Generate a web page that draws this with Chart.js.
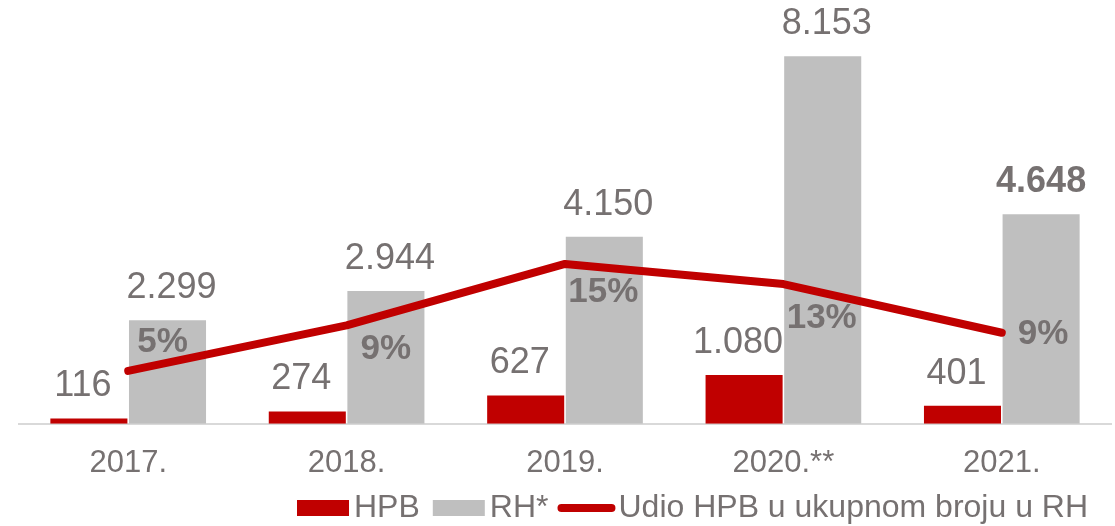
<!DOCTYPE html>
<html><head><meta charset="utf-8">
<script src="https://cdn.jsdelivr.net/npm/chart.js@4.4.1/dist/chart.umd.min.js"></script>
<style>html,body{margin:0;padding:0;background:#fff;}canvas{display:block;}</style>
</head><body>
<canvas id="c" width="1115" height="526"></canvas>
<script>
// ---- data ----
const categories = ['2017.', '2018.', '2019.', '2020.**', '2021.'];
const hpbValues = [116, 274, 627, 1080, 401];
const rhValues = [2299, 2944, 4150, 8153, 4648];
const shareValues = [5.0, 9.3, 15.1, 13.2, 8.6];   // % HPB in RH total
const seriesNames = ['HPB', 'RH*', 'Udio HPB u ukupnom broju u RH'];

// ---- styling ----
const RED = '#c00000';
const GRAY = '#bfbfbf';
const TEXT = '#767171';
const FONT = '"Liberation Sans", Arial, sans-serif';

const fmt = v => String(v).replace(/\B(?=(\d{3})+(?!\d))/g, '.');

const labelPlugin = {
  id: 'labels',
  afterDatasetsDraw(chart, args, opts) {
    const ctx = chart.ctx;
    const mHpb = chart.getDatasetMeta(0), mRh = chart.getDatasetMeta(1), mLine = chart.getDatasetMeta(2);
    ctx.save();
    ctx.fillStyle = TEXT;
    ctx.textAlign = 'center';
    ctx.textBaseline = 'middle';
    mHpb.data.forEach((bar, i) => {
      ctx.font = '36px ' + FONT;
      ctx.fillText(fmt(hpbValues[i]), bar.x + opts.hpbDx, bar.y - opts.gap);
    });
    mRh.data.forEach((bar, i) => {
      const bold = i === rhValues.length - 1;
      ctx.font = (bold ? 'bold ' : '') + '36px ' + FONT;
      ctx.fillText(fmt(rhValues[i]), bar.x + (bold ? 0 : opts.rhDx), bar.y - opts.gap);
    });
    ctx.font = 'bold 35px ' + FONT;
    mLine.data.forEach((pt, i) => {
      const rb = mRh.data[i];
      const off = opts.pctOffsets[i];
      ctx.fillText(Math.round(shareValues[i]) + '%', rb.x + off[0], pt.y + off[1]);
    });
    ctx.restore();
  }
};

const legendPlugin = {
  id: 'customLegend',
  afterDraw(chart, args, opts) {
    const ctx = chart.ctx;
    ctx.save();
    ctx.font = '32px ' + FONT;
    ctx.textBaseline = 'middle';
    ctx.textAlign = 'left';
    const y = opts.y;
    let x = opts.x;
    const items = [
      {type: 'box', color: RED, text: seriesNames[0]},
      {type: 'box', color: GRAY, text: seriesNames[1]},
      {type: 'line', color: RED, text: seriesNames[2]}
    ];
    items.forEach(it => {
      if (it.type === 'box') {
        ctx.fillStyle = it.color;
        ctx.fillRect(x, y - 8, 52, 16);
        x += 52 + 5;
      } else {
        ctx.strokeStyle = it.color;
        ctx.lineWidth = 8;
        ctx.lineCap = 'round';
        ctx.beginPath();
        ctx.moveTo(x + 4, y);
        ctx.lineTo(x + 54, y);
        ctx.stroke();
        x += 58 + 3;
      }
      ctx.fillStyle = TEXT;
      ctx.fillText(it.text, x, y);
      x += ctx.measureText(it.text).width + (it.type === 'box' && it.text === seriesNames[1] ? 9 : 13);
    });
    ctx.restore();
  }
};

new Chart(document.getElementById('c'), {
  data: {
    labels: categories,
    datasets: [
      {type: 'bar', label: seriesNames[0], data: hpbValues, backgroundColor: RED, yAxisID: 'y', order: 1,
       categoryPercentage: 0.72, barPercentage: 0.98},
      {type: 'bar', label: seriesNames[1], data: rhValues, backgroundColor: GRAY, yAxisID: 'y', order: 2,
       categoryPercentage: 0.72, barPercentage: 0.98},
      {type: 'line', label: seriesNames[2], data: shareValues, borderColor: RED, borderWidth: 8, yAxisID: 'y1', order: 0,
       pointRadius: 0, tension: 0, borderCapStyle: 'round', borderJoinStyle: 'round', fill: false}
    ]
  },
  options: {
    responsive: false,
    animation: false,
    devicePixelRatio: 1,
    layout: {padding: {left: 19, right: 4, top: 18, bottom: 23}},
    plugins: {
      legend: {display: false},
      tooltip: {enabled: false},
      labels: {gap: 32, hpbDx: -6, rhDx: 4, pctOffsets: [[-5, -29], [0, 24], [-1, 28], [-1, 34], [2, 2]]},
      customLegend: {x: 297, y: 508}
    },
    scales: {
      x: {
        grid: {display: false, drawTicks: false},
        border: {display: true, color: '#d9d9d9', width: 2},
        ticks: {color: TEXT, font: {family: FONT, size: 31}, padding: 21, maxRotation: 0}
      },
      y: {display: false, min: 0, max: 9000},
      y1: {display: false, min: 0, max: 38.33, position: 'right'}
    }
  },
  plugins: [labelPlugin, legendPlugin]
});
</script>
</body></html>
